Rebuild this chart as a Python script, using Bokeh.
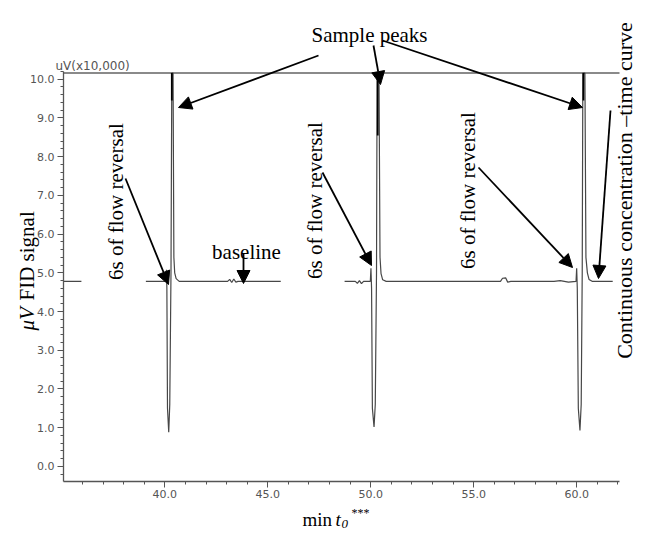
import math
from bokeh.plotting import figure
from bokeh.models import (Range1d, SingleIntervalTicker, NumeralTickFormatter,
                          Label, Arrow, NormalHead)
from bokeh.embed import file_html
from bokeh.resources import INLINE

NAN = float("nan")

# ---- data: FID trace (time in min, signal in uV x10,000) ----
seg_a_time = [35.08, 35.95]
seg_a_signal = [4.78, 4.78]

seg_b_time = [39.08, 40.00, 40.06, 40.08, 40.10, 40.13, 40.19, 40.24, 40.30, 40.34,
              40.40, 40.44, 40.48, 40.55, 40.70, 43.05, 43.15, 43.25, 43.35, 43.45,
              43.55, 45.63]
seg_b_signal = [4.78, 4.78, 4.80, 5.08, 4.60, 1.50, 0.88, 1.60, 5.00, 10.16,
                10.16, 5.40, 5.00, 4.85, 4.78, 4.78, 4.83, 4.75, 4.84, 4.76,
                4.78, 4.78]

seg_c_time = [48.73, 49.25, 49.35, 49.45, 49.55, 49.65, 49.98, 50.01, 50.04, 50.08,
              50.16, 50.22, 50.28, 50.31, 50.40, 50.45, 50.50, 50.58, 50.75, 56.30,
              56.40, 56.55, 56.65, 56.80, 58.90, 59.20, 59.60, 59.97, 60.00, 60.03,
              60.08, 60.16, 60.22, 60.27, 60.30, 60.40, 60.45, 60.52, 60.60, 60.75,
              61.75]
seg_c_signal = [4.78, 4.78, 4.73, 4.80, 4.72, 4.78, 4.78, 5.12, 4.60, 1.50,
                1.02, 1.60, 5.00, 10.16, 10.16, 5.40, 4.98, 4.82, 4.78, 4.78,
                4.86, 4.87, 4.76, 4.78, 4.78, 4.80, 4.76, 4.78, 5.12, 4.60,
                1.50, 0.93, 1.60, 5.00, 10.16, 10.16, 5.40, 5.00, 4.83, 4.78,
                4.78]

# clipped spike tops drawn darker (time, lower signal bound)
spike_top_time = [40.34, 50.34, 60.33]
spike_top_low = [9.45, 8.55, 9.45]

saturation_level = 10.16

x_tick_interval = 5.0
y_tick_interval = 1.0

time_all = seg_a_time + [NAN] + seg_b_time + [NAN] + seg_c_time
signal_all = seg_a_signal + [NAN] + seg_b_signal + [NAN] + seg_c_signal

# ---- layout (canvas pixels) ----
W, H = 636, 531
AX_L, AX_R, AX_T, AX_B = 63, 619, 71, 481      # axis box in canvas px
X0, X1 = 35.08, 62.08                          # x axis extent (min)
Y0, Y1 = -0.39, 10.2                           # y axis extent

kx = (X1 - X0) / (AX_R - AX_L)
ky = (Y1 - Y0) / (AX_B - AX_T)
xr = Range1d(X0 - AX_L * kx, X0 + (W - AX_L) * kx)
yr = Range1d(Y0 - (H - AX_B) * ky, Y1 + AX_T * ky)

def X(px):
    return X0 + (px - AX_L) * kx
def Y(py):
    return Y0 + (AX_B - py) * ky

p = figure(width=W, height=H, output_backend="svg", toolbar_location=None,
           x_range=xr, y_range=yr,
           min_border_left=0, min_border_right=0,
           min_border_top=0, min_border_bottom=0)
p.outline_line_color = None
p.xgrid.visible = False
p.ygrid.visible = False
p.background_fill_color = "white"
p.border_fill_color = "white"

# axes, pinned inside the frame
for ax in (p.xaxis[0], p.yaxis[0]):
    ax.axis_line_color = "#555555"
    ax.axis_line_width = 1.3
    ax.major_tick_line_color = "#555555"
    ax.minor_tick_line_color = "#555555"
    ax.major_tick_out = 6
    ax.major_tick_in = 0
    ax.minor_tick_out = 3
    ax.minor_tick_in = 0
    ax.major_label_text_font = "DejaVu Sans"
    ax.major_label_text_font_size = "11px"
    ax.major_label_text_color = "#555555"
    ax.formatter = NumeralTickFormatter(format="0.0")

p.xaxis[0].ticker = SingleIntervalTicker(interval=x_tick_interval, num_minor_ticks=5)
p.yaxis[0].ticker = SingleIntervalTicker(interval=y_tick_interval, num_minor_ticks=5)
p.xaxis[0].fixed_location = Y0
p.yaxis[0].fixed_location = X0
p.xaxis[0].bounds = (X0, X1)
p.yaxis[0].bounds = (Y0, Y1)
p.xaxis[0].major_label_standoff = 2
p.yaxis[0].major_label_standoff = 3

# saturation line (top of detector range)
p.segment(x0=[X0], y0=[saturation_level], x1=[X1], y1=[saturation_level],
          line_color="#8a8a8a", line_width=2)

# trace
p.line(time_all, signal_all, line_color="#474747", line_width=1.2)
p.segment(x0=spike_top_time, y0=spike_top_low, x1=spike_top_time,
          y1=[saturation_level] * len(spike_top_time),
          line_color="black", line_width=1.8)

serif = "Liberation Serif"

def lab(px, py, text, size="21px", angle=0.0, align="center", baseline="middle",
        style="normal", font=serif, color="black"):
    p.add_layout(Label(x=X(px), y=Y(py), text=text, angle=angle,
                       text_align=align, text_baseline=baseline,
                       text_font=font, text_font_size=size,
                       text_font_style=style, text_color=color))

up = math.pi / 2

# annotations
lab(369, 34, "Sample peaks", baseline="alphabetic")
lab(115, 201, "6s of flow reversal", angle=up)
lab(314, 200, "6s of flow reversal", angle=up)
lab(467, 190, "6s of flow reversal", angle=up)
lab(624, 190, "Continuous concentration \u2013time curve", size="22px", angle=up)
lab(246, 251, "baseline", baseline="alphabetic")

# axis unit label
lab(55, 65, "uV(x10,000)", size="12px", align="left", font="DejaVu Sans", color="#555555")

# y-axis title
lab(26, 330, "\u03bcV", size="21px", angle=up, align="left", style="italic")
lab(26, 300, "FID signal", size="21px", angle=up, align="left")

# x-axis title
lab(302, 519, "min", size="19px", align="left", baseline="alphabetic")
lab(335, 519, "t", size="19px", align="left", baseline="alphabetic", style="italic")
lab(341, 523, "0", size="13px", align="left", baseline="alphabetic", style="italic")
lab(351, 512, "***", size="12px", align="left", baseline="alphabetic")

arrows = [
    ((318, 55), (178, 107)),
    ((373, 45), (380, 84)),
    ((382, 40), (582, 107)),
    ((125, 178), (168, 284)),
    ((322, 172), (371, 265)),
    ((478, 167), (572, 267)),
    ((610, 110), (598, 278)),
    ((243, 253), (243, 283)),
]
for (sx, sy), (ex, ey) in arrows:
    p.add_layout(Arrow(end=NormalHead(size=13, fill_color="black", line_color="black",
                                      line_width=1),
                       x_start=X(sx), y_start=Y(sy), x_end=X(ex), y_end=Y(ey),
                       line_color="black", line_width=1.8))

open("out.html", "w").write(file_html(p, INLINE))
